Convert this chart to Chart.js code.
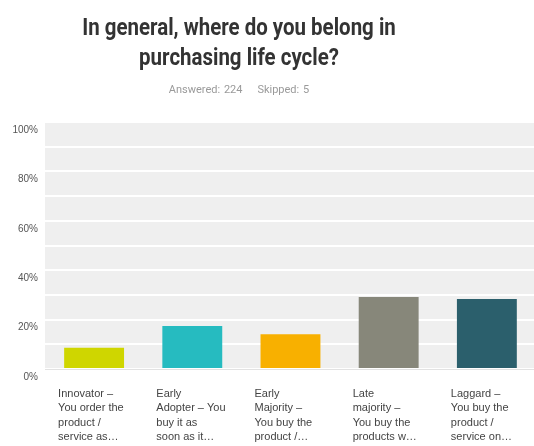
<!DOCTYPE html>
<html>
<head>
<meta charset="utf-8">
<script src="https://cdn.jsdelivr.net/npm/chart.js@4/dist/chart.umd.min.js"></script>
<style>
  html, body { margin: 0; padding: 0; background: #fff; }
  #wrap { position: relative; width: 534px; height: 446px; overflow: hidden; }
  #title {
    position: absolute; left: 0; width: 478px; top: 13px;
    text-align: center; font-family: "Roboto", sans-serif;
    font-weight: bold; font-size: 23px; line-height: 30px; color: #333;
    transform: scaleX(0.89); transform-origin: 239px 0;
  }
  #sub {
    position: absolute; left: 0; width: 478px; top: 83px;
    text-align: center; font-family: "Roboto", sans-serif;
    font-size: 11px; color: #9a9a9a; word-spacing: 1px;
  }
  #holder { position: absolute; left: 0; top: 0; width: 558px; height: 446px; }
</style>
</head>
<body>
<div id="wrap">
  <div id="holder"><canvas id="myChart"></canvas></div>
  <div id="title">In general, where do you belong in<br>purchasing life cycle?</div>
  <div id="sub">Answered: 224 &nbsp;&nbsp; Skipped: 5</div>
</div>
<script>
var categories = [
    ['Innovator –', 'You order the', 'product /', 'service as…'],
    ['Early', 'Adopter – You', 'buy it as', 'soon as it…'],
    ['Early', 'Majority –', 'You buy the', 'product /…'],
    ['Late', 'majority –', 'You buy the', 'products w…'],
    ['Laggard –', 'You buy the', 'product /', 'service on…']
];
var percentages = [8.6, 17.4, 14.1, 29.1, 28.3];
var barColors = ['#cfd600', '#26bbc0', '#f8b000', '#87877a', '#2b5f6c'];
var yTicks = [0, 20, 40, 60, 80, 100];

// grey panel behind the bars
var plotBackground = {
    id: 'plotBackground',
    beforeDraw: function(chart) {
        var a = chart.chartArea;
        var ctx = chart.ctx;
        ctx.save();
        ctx.fillStyle = '#efefef';
        ctx.fillRect(a.left, a.top, a.right - a.left, a.bottom - a.top);
        ctx.restore();
    }
};

function create_chart() {
    var ctx = document.getElementById('myChart').getContext('2d');
    globalThis.chart = new Chart(ctx, {
        type: 'bar',
        data: {
            labels: categories,
            datasets: [{
                data: percentages,
                backgroundColor: barColors,
                borderWidth: 0,
                barPercentage: 0.61,
                categoryPercentage: 1.0
            }]
        },
        options: {
            responsive: true,
            maintainAspectRatio: false,
            animation: false,
            layout: {
                padding: { top: 122, left: 0, right: 0, bottom: 0 }
            },
            plugins: {
                legend: { display: false },
                tooltip: { enabled: false }
            },
            scales: {
                x: {
                    grid: { display: false },
                    border: { display: true, color: '#e2e2e2', width: 1 },
                    ticks: {
                        autoSkip: false,
                        maxRotation: 0,
                        minRotation: 0,
                        align: 'start',
                        labelOffset: -36,
                        padding: 10,
                        color: '#444',
                        font: { family: 'Liberation Sans', size: 11, lineHeight: 1.3 }
                    },
                    afterFit: function(scale) { scale.height = 77; }
                },
                y: {
                    min: 0,
                    max: 100,
                    grid: { color: '#ffffff', lineWidth: 2, drawTicks: false },
                    border: { display: false },
                    ticks: {
                        stepSize: 10,
                        padding: 7,
                        labelOffset: 8,
                        color: '#555',
                        font: { family: 'Liberation Sans', size: 10 },
                        callback: function(v) {
                            return yTicks.indexOf(v) >= 0 ? v + '%' : '';
                        }
                    },
                    afterFit: function(scale) { scale.width = 45; }
                }
            }
        },
        plugins: [plotBackground]
    });
}

create_chart();
</script>
</body>
</html>
